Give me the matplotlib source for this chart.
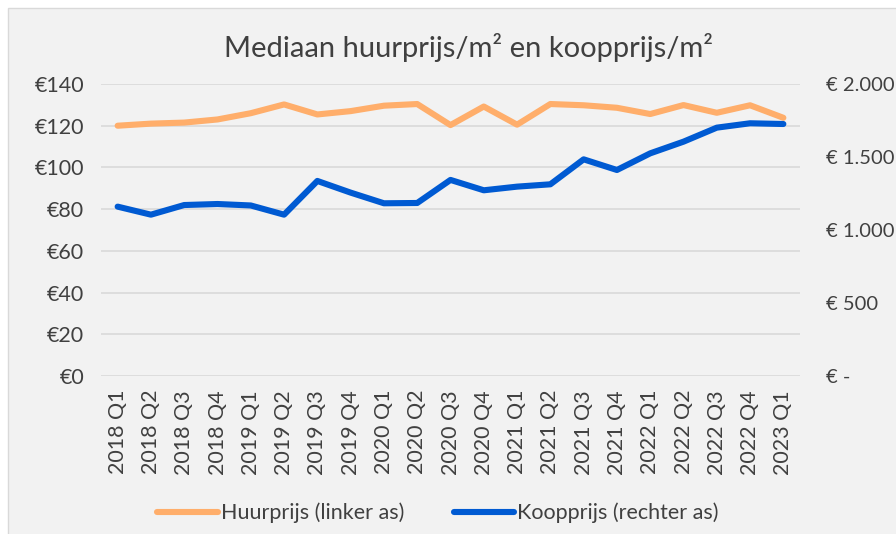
import matplotlib.pyplot as plt
from matplotlib.patches import Rectangle
from matplotlib.ticker import FuncFormatter

quarters = ["2018 Q1", "2018 Q2", "2018 Q3", "2018 Q4", "2019 Q1", "2019 Q2", "2019 Q3",
            "2019 Q4", "2020 Q1", "2020 Q2", "2020 Q3", "2020 Q4", "2021 Q1", "2021 Q2",
            "2021 Q3", "2021 Q4", "2022 Q1", "2022 Q2", "2022 Q3", "2022 Q4", "2023 Q1"]
huurprijs = [120.0, 121.0, 121.5, 123.0, 126.0, 130.2, 125.4, 127.0, 129.6, 130.4, 120.3,
             129.2, 120.5, 130.4, 129.8, 128.6, 125.6, 129.9, 126.2, 129.8, 123.8]
koopprijs = [1160, 1105, 1171, 1178, 1168, 1105, 1336, 1256, 1183, 1185, 1343,
             1272, 1297, 1313, 1484, 1411, 1525, 1605, 1701, 1731, 1726]

left_ticks = [0, 20, 40, 60, 80, 100, 120, 140]
right_ticks = [0, 500, 1000, 1500, 2000]

orange = "#FFAE6B"
blue = "#005AD2"
txt = "#404040"
bg = "#F2F2F2"

plt.rcParams["font.family"] = ["Lato", "DejaVu Sans"]

fig = plt.figure(figsize=(8.96, 5.34), dpi=100)
fig.patch.set_facecolor("white")
fig.patches.append(Rectangle((8 / 896, -0.1), 1.2, (534 - 8) / 534 + 0.1,
                             transform=fig.transFigure, facecolor=bg,
                             edgecolor="#D9D9D9", lw=1, zorder=-10))

ax = fig.add_axes([101 / 896, 1 - 376 / 534, 699 / 896, 292 / 534])
ax.set_facecolor("none")
ax2 = ax.twinx()

x = range(len(quarters))
ax.plot(x, huurprijs, color=orange, lw=4.4, solid_capstyle="round", solid_joinstyle="round",
        label="Huurprijs (linker as)", zorder=3)
ax2.plot(x, koopprijs, color=blue, lw=4.4, solid_capstyle="round", solid_joinstyle="round",
         label="Koopprijs (rechter as)", zorder=3)

ax.set_xlim(-0.5, len(quarters) - 0.5)
ax.set_ylim(0, 140)
ax2.set_ylim(0, 2000)
ax.set_yticks(left_ticks)
ax2.set_yticks(right_ticks)
ax.yaxis.set_major_formatter(FuncFormatter(lambda v, p: f"€{int(v)}"))


def euro_right(v, p):
    if v == 0:
        return "€ -"
    return "€ " + f"{int(v):,}".replace(",", ".")


ax2.yaxis.set_major_formatter(FuncFormatter(euro_right))
ax.set_xticks(list(x))
ax.set_xticklabels(quarters, rotation=90)

ax.grid(axis="y", color="#D9D9D9", lw=1.2)
ax.set_axisbelow(True)
for a in (ax, ax2):
    for s in a.spines.values():
        s.set_visible(False)
ax.tick_params(axis="both", length=0, labelsize=15.5, colors=txt, pad=12)
ax.tick_params(axis="x", pad=10)
# right labels slightly smaller so they fit inside the canvas
ax2.tick_params(axis="y", length=0, labelsize=14.5, colors=txt, pad=19)

fig.text(468 / 896, 1 - 48 / 534, "Mediaan huurprijs/m² en koopprijs/m²",
         ha="center", va="center", fontsize=21, color=txt)

h1, l1 = ax.get_legend_handles_labels()
h2, l2 = ax2.get_legend_handles_labels()
fig.legend(h1 + h2, l1 + l2, loc="center", bbox_to_anchor=(438 / 896, 1 - 513 / 534),
           ncol=2, frameon=False, fontsize=15.5, labelcolor=txt, handlelength=2.8,
           handletextpad=0.15, columnspacing=2.3)

fig.savefig("out.png", dpi=100)
